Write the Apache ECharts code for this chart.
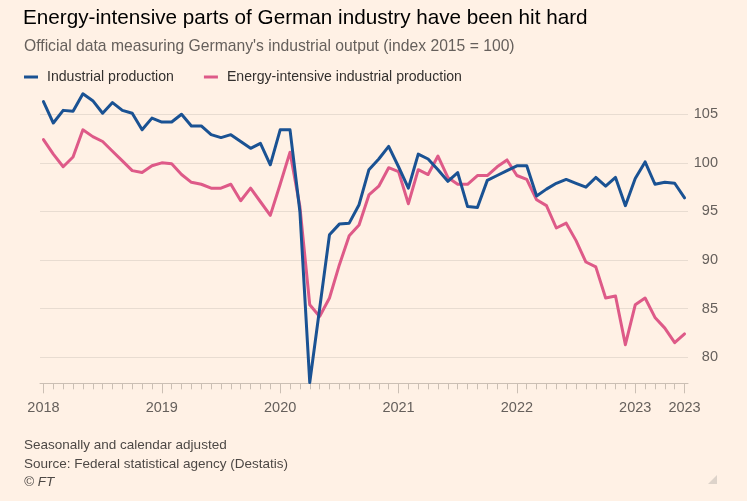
<!DOCTYPE html>
<html>
<head>
<meta charset="utf-8">
<script src="https://cdn.jsdelivr.net/npm/echarts@6/dist/echarts.min.js"></script>
<style>
html,body{margin:0;padding:0;background:#fff1e5;}
#c{width:747px;height:501px;}
</style>
</head>
<body>
<div id="c"></div>
<script>
// ---- data ----
const months = [
 '2018-01','2018-02','2018-03','2018-04','2018-05','2018-06','2018-07','2018-08','2018-09','2018-10','2018-11','2018-12',
 '2019-01','2019-02','2019-03','2019-04','2019-05','2019-06','2019-07','2019-08','2019-09','2019-10','2019-11','2019-12',
 '2020-01','2020-02','2020-03','2020-04','2020-05','2020-06','2020-07','2020-08','2020-09','2020-10','2020-11','2020-12',
 '2021-01','2021-02','2021-03','2021-04','2021-05','2021-06','2021-07','2021-08','2021-09','2021-10','2021-11','2021-12',
 '2022-01','2022-02','2022-03','2022-04','2022-05','2022-06','2022-07','2022-08','2022-09','2022-10','2022-11','2022-12',
 '2023-01','2023-02','2023-03','2023-04','2023-05','2023-06'
];
const industrial = [
 106.3,104.1,105.4,105.3,107.1,106.4,105.1,106.2,105.4,105.1,103.4,104.6,
 104.2,104.2,105.0,103.8,103.8,102.9,102.6,102.9,102.2,101.5,102.0,99.8,
 103.4,103.4,95.0,77.4,85.0,92.6,93.7,93.8,95.7,99.3,100.4,101.7,
 99.6,97.4,100.9,100.4,99.3,98.1,99.0,95.5,95.4,98.2,98.7,99.2,
 99.7,99.7,96.6,97.3,97.9,98.3,97.9,97.5,98.5,97.6,98.5,95.6,
 98.4,100.1,97.8,98.0,97.9,96.4
];
const energyIntensive = [
 102.4,100.9,99.6,100.6,103.4,102.7,102.2,101.2,100.2,99.2,99.0,99.7,
 100.0,99.9,98.8,98.0,97.8,97.4,97.4,97.8,96.1,97.4,96.0,94.6,
 97.8,101.1,95.5,85.4,84.2,86.1,89.5,92.5,93.6,96.7,97.6,99.5,
 99.1,95.8,99.3,98.8,100.7,98.5,97.8,97.8,98.7,98.7,99.6,100.3,
 98.7,98.3,96.2,95.6,93.3,93.8,92.0,89.8,89.3,86.1,86.3,81.3,
 85.4,86.1,84.1,83.0,81.5,82.4
];
const yTicks = [80, 85, 90, 95, 100, 105];
const xLabelIdx = [0, 12, 24, 36, 48, 60, 65];
const xLabelText = ['2018', '2019', '2020', '2021', '2022', '2023', '2023'];
const seriesNames = ['Industrial production', 'Energy-intensive industrial production'];

// ---- chart ----
const FONT = "'Liberation Sans', Arial, sans-serif";
const BLUE = '#1a5293';
const PINK = '#de5a88';
const AXIS = '#cbbfb4';
const GRID = '#e8dcd1';

const chart = echarts.init(document.getElementById('c'), null, {renderer: 'canvas'});
const monthIdx = months.map((m, i) => i);

const option = {
  backgroundColor: '#fff1e5',
  animation: false,
  title: [
    {text: 'Energy-intensive parts of German industry have been hit hard', left: 23, top: 6, padding: 0,
     textStyle: {fontFamily: FONT, fontWeight: 'normal', fontSize: 20.7, lineHeight: 24, color: '#000000'}},
    {text: "Official data measuring Germany's industrial output (index 2015 = 100)", left: 24, top: 38, padding: 0,
     textStyle: {fontFamily: FONT, fontWeight: 'normal', fontSize: 15.7, lineHeight: 18, color: '#66605c'}},
    {text: 'Seasonally and calendar adjusted', left: 24, top: 436, padding: 0,
     textStyle: {fontFamily: FONT, fontWeight: 'normal', fontSize: 13.5, lineHeight: 18, color: '#4d4845'}},
    {text: 'Source: Federal statistical agency (Destatis)', left: 24, top: 455, padding: 0,
     textStyle: {fontFamily: FONT, fontWeight: 'normal', fontSize: 13.5, lineHeight: 18, color: '#4d4845'}},
    {text: '© FT', left: 24, top: 473, padding: 0,
     textStyle: {fontFamily: FONT, fontWeight: 'normal', fontStyle: 'italic', fontSize: 13.5, lineHeight: 18, color: '#4d4845'}}
  ],
  legend: {
    left: 24, top: 69, padding: 0, itemGap: 30,
    itemWidth: 14, itemHeight: 3, icon: 'rect',
    data: seriesNames,
    textStyle: {fontFamily: FONT, fontSize: 14.1, lineHeight: 16, color: '#33302e', padding: [0, 0, 0, 4]}
  },
  grid: {left: 40, right: 59, top: 91.9, bottom: 117.7, containLabel: false},
  xAxis: [
    {
      type: 'value', position: 'bottom', min: -0.35, max: 65.35,
      axisLine: {show: true, lineStyle: {color: AXIS, width: 1}},
      axisTick: {show: true, customValues: monthIdx, length: 6, lineStyle: {color: AXIS, width: 1}},
      axisLabel: {show: false},
      splitLine: {show: false}
    },
    {
      type: 'value', position: 'bottom', min: -0.35, max: 65.35,
      axisLine: {show: false},
      axisTick: {show: true, customValues: xLabelIdx, length: 10, lineStyle: {color: AXIS, width: 1}},
      axisLabel: {show: true, customValues: xLabelIdx, margin: 17,
        formatter: v => xLabelText[xLabelIdx.indexOf(Math.round(v))],
        fontFamily: FONT, fontSize: 14.5, color: '#66605c', hideOverlap: false},
      splitLine: {show: false}
    }
  ],
  yAxis: {
    type: 'value', position: 'right', min: 77.325, max: 107.3,
    axisLine: {show: false},
    axisTick: {show: false, customValues: yTicks},
    axisLabel: {show: true, customValues: yTicks, align: 'right', margin: 30,
      fontFamily: FONT, fontSize: 14.5, color: '#66605c'},
    splitLine: {show: true, lineStyle: {color: GRID, width: 1}}
  },
  series: [
    {
      name: seriesNames[0], type: 'line', xAxisIndex: 0, z: 3,
      data: industrial.map((v, i) => [i, v]),
      showSymbol: false, symbol: 'none',
      itemStyle: {color: BLUE},
      lineStyle: {color: BLUE, width: 3, cap: 'round', join: 'round'}
    },
    {
      name: seriesNames[1], type: 'line', xAxisIndex: 0, z: 2,
      data: energyIntensive.map((v, i) => [i, v]),
      showSymbol: false, symbol: 'none',
      itemStyle: {color: PINK},
      lineStyle: {color: PINK, width: 3, cap: 'round', join: 'round'}
    }
  ],
  graphic: [
    {type: 'polygon', shape: {points: [[717, 475], [717, 484], [708, 484]]}, style: {fill: '#ddd3ca'}, silent: true}
  ]
};
chart.setOption(option);
</script>
</body>
</html>
